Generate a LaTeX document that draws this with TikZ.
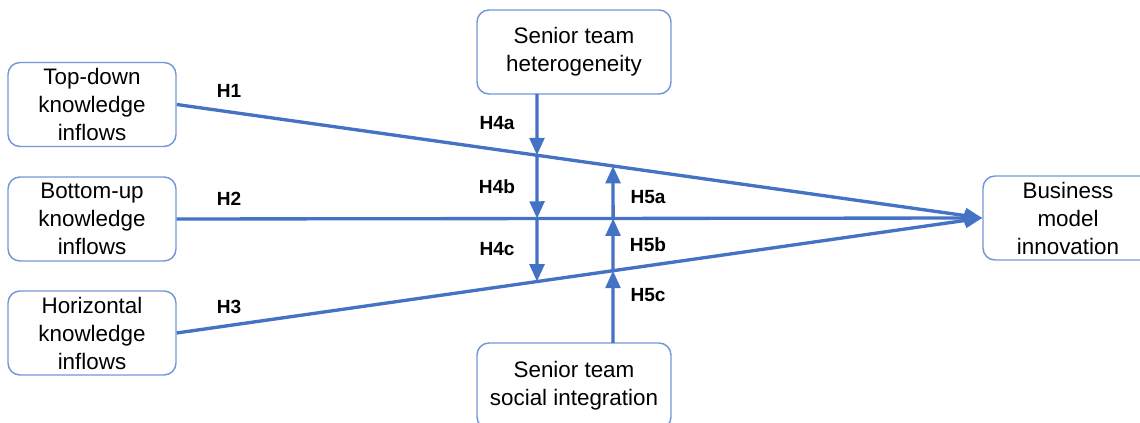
\documentclass[tikz,border=0pt]{standalone}
\usepackage{fontspec}
\setmainfont{Liberation Sans}
\usetikzlibrary{arrows.meta}
\definecolor{linkblue}{HTML}{4472C4}
\definecolor{boxblue}{HTML}{7396D8}

\begin{document}
\begin{tikzpicture}[x=0.75pt,y=-0.75pt,
    box/.style={draw=boxblue,line width=1.1pt,rounded corners=9pt,align=center,
        inner sep=0pt,font=\fontsize{16.8}{21}\selectfont},
    link/.style={draw=linkblue,line width=2.5pt,-{Triangle[width=11pt,length=13pt]}},
    hyp/.style={font=\fontsize{14.3}{17}\selectfont\bfseries}]
                \useasboundingbox (0,0) rectangle (1140,423);

                \node[box,minimum width=126pt,minimum height=63pt] (tdk) at (92,104.5){Top-down\\knowledge\\inflows};
                \node[box,minimum width=126pt,minimum height=63pt] (buk) at (92,219){Bottom-up\\knowledge\\inflows};
                \node[box,minimum width=126pt,minimum height=63pt] (hzk) at (92,333){Horizontal\\knowledge\\inflows};
                \node[box,minimum width=145.5pt,minimum height=63pt] (het) at (574,52){Senior team\\heterogeneity};
                \node[box,minimum width=145.5pt,minimum height=64.5pt] (soc) at (574,386){Senior team\\social integration};
                \node[box,minimum width=127.5pt,minimum height=63pt] (bmi) at (1068,218){Business\\model\\innovation};

                \draw[link] (tdk.east) -- (bmi.west);
                \draw[link] (buk.east) -- (bmi.west);
                \draw[link] (hzk.east) -- (bmi.west);

                \coordinate (m4) at (537,94);
                \coordinate (m4end) at (537,400);
                \coordinate (m5) at (613,343);
                \coordinate (m5end) at (613,40);
                \coordinate (x1a) at (intersection of m4--m4end and tdk.east--bmi.west);
                \coordinate (x2a) at (intersection of m4--m4end and buk.east--bmi.west);
                \coordinate (x3a) at (intersection of m4--m4end and hzk.east--bmi.west);
                \coordinate (x1b) at (intersection of m5--m5end and tdk.east--bmi.west);
                \coordinate (x2b) at (intersection of m5--m5end and buk.east--bmi.west);
                \coordinate (x3b) at (intersection of m5--m5end and hzk.east--bmi.west);

                \draw[link] (m4) -- (x1a);
                \draw[link] (x1a) -- (x2a);
                \draw[link] (x2a) -- (x3a);
                \draw[link] (m5) -- (x3b);
                \draw[link] (x3b) -- (x2b);
                \draw[link] (x2b) -- (x1b);

                \node[hyp] (h1) at (229,91){H1};
                \node[hyp] (h2) at (229,199){H2};
                \node[hyp] (h3) at (229,307){H3};
                \node[hyp] (h4a) at (497,123){H4a};
                \node[hyp] (h4b) at (497,187){H4b};
                \node[hyp] (h4c) at (497,249){H4c};
                \node[hyp] (h5a) at (648,197){H5a};
                \node[hyp] (h5b) at (648,245){H5b};
                \node[hyp] (h5c) at (648,295){H5c};
            \end{tikzpicture}
\end{document}
